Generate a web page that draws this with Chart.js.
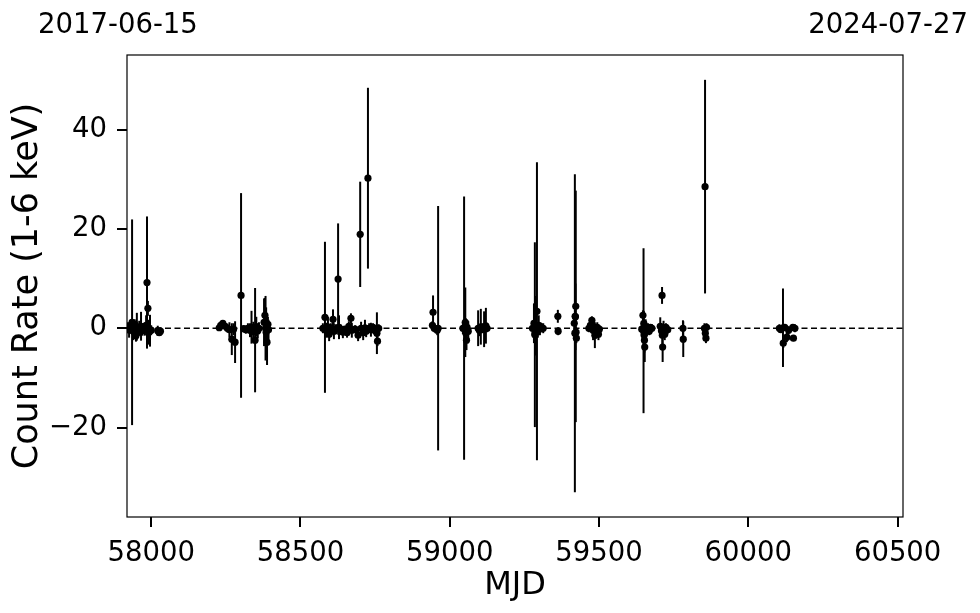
<!DOCTYPE html>
<html>
<head>
<meta charset="utf-8">
<script src="https://cdn.jsdelivr.net/npm/chart.js@4.4.1/dist/chart.umd.min.js"></script>
<style>
  html, body { margin: 0; padding: 0; background: #fff; }
  #wrap { width: 980px; height: 613px; }
</style>
</head>
<body>
<div id="wrap"><canvas id="lc" width="980" height="613"></canvas></div>
<script>
// light curve values
const mjd = [
  57922, 57926, 57930, 57936, 57940, 57945, 57949, 57952, 57956, 57960,
  57964, 57966, 57970, 57974, 57978, 57983, 57986, 57989, 57992, 57996,
  58000, 58022, 58027, 58031,
  58228, 58233, 58240, 58248, 58255, 58262, 58270, 58276, 58281, 58301,
  58310, 58317, 58324, 58331, 58336, 58342, 58348, 58352, 58357, 58361,
  58378, 58381, 58383, 58385, 58388, 58391, 58393,
  58575, 58582, 58586, 58592, 58596, 58602, 58609, 58612, 58619, 58626,
  58629, 58636, 58642, 58649, 58656, 58662, 58669, 58672, 58683, 58693,
  58700, 58703, 58710, 58716, 58720, 58726, 58730, 58736, 58743, 58750,
  58756, 58758, 58762,
  58942, 58944, 58948, 58958, 58961,
  59044, 59048, 59052, 59054, 59056, 59058, 59062,
  59095, 59099, 59104, 59110, 59115, 59121, 59125,
  59277, 59282, 59285, 59288, 59292, 59295, 59298, 59302, 59306, 59313,
  59362, 59363,
  59417, 59419, 59420, 59421, 59422, 59423, 59424,
  59466, 59471, 59476, 59480, 59483, 59486, 59490, 59494, 59498, 59501,
  59643, 59647, 59649, 59650, 59651, 59652, 59653, 59656, 59660, 59664,
  59668, 59672, 59677,
  59705, 59709, 59711, 59712, 59713, 59716, 59720, 59724, 59730,
  59781, 59782,
  59853, 59855, 59856, 59858, 59860,
  60104, 60109, 60116, 60117, 60122, 60129, 60135, 60149, 60151, 60156
];
const rate = [
  0.2, -0.4, 0.5, 1.2, -0.6, 0.8, -1.5, 0.3, -0.8, 0.0,
  -0.3, 0.4, -0.5, 0.2, -0.2, 0.6, 9.2, 4.0, -0.8, -0.5,
  -0.4, -0.5, -0.9, -0.6,
  0.1, 0.6, 1.0, 0.4, 0.0, -0.3, -2.2, -0.2, -2.8, 6.6,
  -0.1, -0.3, 0.0, -0.4, 0.2, -0.7, -2.4, 0.3, -0.5, 0.0,
  1.2, 2.6, 0.0, -0.8, -2.8, 0.8, -0.3,
  0.0, 2.2, -0.4, 0.3, -1.2, 0.0, 1.8, -0.6, -0.2, 9.9,
  0.2, -0.3, -0.8, -0.2, -0.9, 0.4, 2.0, -0.4, -0.2, -1.4,
  18.9, 0.0, -0.9, 0.1, -0.6, 30.2, 0.0, -0.3, 0.2, -0.5,
  -1.0, -2.6, 0.0,
  0.6, 3.2, 0.0, -0.4, 0.0,
  0.0, 0.0, 1.2, -1.0, -2.4, 0.2, -0.6,
  0.0, -0.4, 0.3, 0.0, -0.2, 0.5, 0.0,
  0.0, 1.0, -1.3, 0.5, 3.4, -0.4, 0.6, -0.2, 0.3, 0.0,
  2.4, -0.6,
  1.0, -1.0, 2.4, 2.3, 4.4, -0.8, -2.0,
  0.0, 0.6, 1.6, -0.4, 0.0, -1.4, -0.6, 0.2, -1.2, -0.2,
  -0.2, 2.6, -0.5, 1.0, -1.4, -2.4, -3.8, 0.3, -0.4, 0.0,
  -0.6, 0.2, 0.0,
  0.4, -0.5, 6.6, -1.4, -3.8, 0.0, -1.2, 0.2, -0.3,
  0.0, -2.2,
  0.0, 28.5, -1.0, -2.0, 0.2,
  0.0, -0.3, 0.1, -3.0, 0.2, -1.8, -0.4, 0.2, -2.0, 0.0
];
const rateErr = [
  1.0, 1.5, 1.2, 20.7, 1.8, 1.0, 1.2, 2.8, 1.0, 1.5,
  1.2, 2.9, 1.0, 0.8, 1.3, 2.0, 13.3, 1.5, 2.5, 3.2,
  1.0, 1.0, 0.6, 0.8,
  0.5, 0.5, 0.5, 0.6, 0.8, 1.5, 3.2, 1.2, 4.2, 20.6,
  0.6, 0.8, 1.0, 1.4, 3.3, 2.0, 10.5, 2.0, 1.5, 1.2,
  4.8, 3.5, 6.5, 5.0, 4.6, 1.5, 2.0,
  1.0, 15.2, 1.5, 2.0, 1.4, 1.0, 2.0, 1.6, 1.0, 11.2,
  2.4, 1.0, 1.2, 0.6, 1.0, 1.0, 1.0, 1.5, 0.8, 1.2,
  10.6, 1.3, 1.5, 1.6, 1.2, 18.2, 1.0, 1.4, 0.8, 1.0,
  4.2, 1.0, 0.8,
  0.8, 3.4, 0.8, 1.0, 24.6,
  1.2, 26.5, 7.0, 3.0, 2.0, 1.5, 2.0,
  3.6, 1.2, 3.6, 1.0, 3.6, 3.6, 0.8,
  1.5, 4.0, 18.6, 6.0, 30.0, 1.5, 2.0, 1.2, 0.8, 1.0,
  1.3, 0.8,
  1.5, 32.0, 1.5, 6.7, 23.3, 1.0, 1.0,
  0.8, 1.2, 0.8, 2.0, 1.5, 2.6, 1.5, 1.0, 1.2, 0.6,
  1.2, 1.0, 16.6, 2.5, 2.0, 2.5, 3.0, 1.5, 1.2, 1.0,
  0.8, 0.6, 0.8,
  1.8, 1.5, 1.7, 2.0, 3.0, 1.5, 1.2, 0.8, 0.8,
  1.6, 3.6,
  1.0, 21.5, 1.6, 1.0, 0.8,
  0.8, 0.6, 7.9, 1.0, 0.6, 1.0, 0.8, 0.6, 0.6, 0.8
];

const xRange = [57919, 60518];
const yRange = [-38, 55];
const xTicks = [58000, 58500, 59000, 59500, 60000, 60500];
const yTicks = [-20, 0, 20, 40];
const dateLabels = ['2017-06-15', '2024-07-27'];

const FONT = "'DejaVu Sans', sans-serif";
const TICK_LEN = 10;

// vertical error bars, drawn under the markers
const errorBars = {
    id: 'errorBars',
    beforeDatasetsDraw(chart) {
        const { ctx, chartArea: a, scales: { x, y } } = chart;
        ctx.save();
        ctx.beginPath();
        ctx.rect(a.left, a.top, a.right - a.left, a.bottom - a.top);
        ctx.clip();
        ctx.strokeStyle = '#000';
        ctx.lineWidth = 2;
        for (let i = 0; i < mjd.length; i++) {
            const px = x.getPixelForValue(mjd[i]);
            ctx.beginPath();
            ctx.moveTo(px, y.getPixelForValue(rate[i] - rateErr[i]));
            ctx.lineTo(px, y.getPixelForValue(rate[i] + rateErr[i]));
            ctx.stroke();
        }
        ctx.restore();
    }
};

// box around the axes, outward tick marks, and the date labels on top
const frame = {
    id: 'frame',
    afterDraw(chart) {
        const { ctx, chartArea: a, scales: { x, y } } = chart;
        ctx.save();
        ctx.strokeStyle = '#000';
        ctx.lineWidth = 1.2;
        ctx.strokeRect(a.left, a.top, a.right - a.left, a.bottom - a.top);
        ctx.lineWidth = 2;
        ctx.beginPath();
        xTicks.forEach(v => {
            const px = Math.round(x.getPixelForValue(v));
            ctx.moveTo(px, a.bottom);
            ctx.lineTo(px, a.bottom + TICK_LEN);
        });
        yTicks.forEach(v => {
            const py = Math.round(y.getPixelForValue(v));
            ctx.moveTo(a.left, py);
            ctx.lineTo(a.left - TICK_LEN, py);
        });
        ctx.stroke();
        ctx.fillStyle = '#000';
        ctx.font = '27.5px ' + FONT;
        ctx.textBaseline = 'alphabetic';
        ctx.textAlign = 'left';
        ctx.fillText(dateLabels[0], 38, 33);
        ctx.textAlign = 'right';
        ctx.fillText(dateLabels[1], 968, 33);
        ctx.restore();
    }
};

const points = mjd.map((m, i) => ({ x: m, y: rate[i] }));

new Chart(document.getElementById('lc'), {
    type: 'scatter',
    data: {
        datasets: [
            {
                label: 'zero',
                type: 'line',
                data: [{ x: xRange[0], y: 0 }, { x: xRange[1], y: 0 }],
                borderColor: '#000',
                borderWidth: 1.6,
                borderDash: [6, 3.5],
                pointRadius: 0,
                order: 2
            },
            {
                label: 'rate',
                data: points,
                backgroundColor: '#000',
                borderColor: '#000',
                pointRadius: 3.6,
                pointBorderWidth: 0,
                order: 1
            }
        ]
    },
    options: {
        responsive: false,
        animation: false,
        devicePixelRatio: 1,
        layout: { padding: { top: 55, right: 77, left: 0, bottom: 0 } },
        plugins: { legend: { display: false }, tooltip: { enabled: false } },
        scales: {
            x: {
                type: 'linear',
                min: xRange[0],
                max: xRange[1],
                afterBuildTicks: s => { s.ticks = xTicks.map(v => ({ value: v })); },
                afterFit: s => { s.height = 96; },
                ticks: { color: '#000', font: { family: FONT, size: 27.5 }, padding: 12, maxRotation: 0, callback: v => String(v) },
                grid: { display: false },
                border: { display: false },
                title: { display: true, text: 'MJD', color: '#000', font: { family: FONT, size: 32 }, padding: { top: 8, bottom: 8 } }
            },
            y: {
                type: 'linear',
                min: yRange[0],
                max: yRange[1],
                afterBuildTicks: s => { s.ticks = yTicks.map(v => ({ value: v })); },
                afterFit: s => { s.width = 127; },
                ticks: {
                    color: '#000', font: { family: FONT, size: 27.5 }, padding: 12,
                    callback: v => (v < 0 ? '\u2212' + Math.abs(v) : String(v))
                },
                grid: { display: false },
                border: { display: false },
                title: { display: true, text: 'Count Rate (1-6 keV)', color: '#000', font: { family: FONT, size: 35 }, padding: { top: 7, bottom: 7 } }
            }
        }
    },
    plugins: [errorBars, frame]
});
</script>
</body>
</html>
